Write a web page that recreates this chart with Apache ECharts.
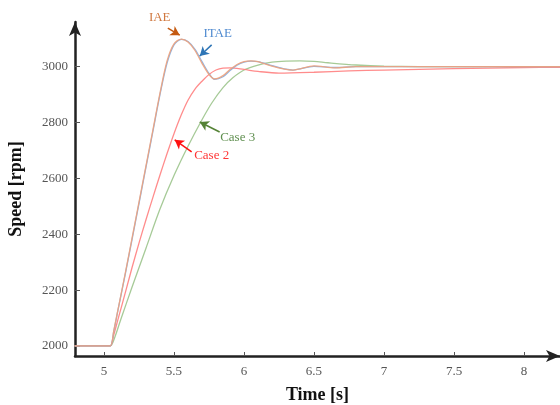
<!DOCTYPE html>
<html>
<head>
<meta charset="utf-8">
<script src="https://cdn.jsdelivr.net/npm/echarts@6/dist/echarts.min.js"></script>
<style>
html, body { margin: 0; padding: 0; background: #fff; }
#main { width: 560px; height: 405px; }
</style>
</head>
<body>
<div id="main"></div>
<script>
// tick labels
var timeTicks = [5, 5.5, 6, 6.5, 7, 7.5, 8];
var speedTicks = [2000, 2200, 2400, 2600, 2800, 3000];

// IAE / ITAE responses (shared time base)
var timeFast = [4.79, 5.0, 5.045, 5.07, 5.1, 5.15, 5.2, 5.25, 5.3, 5.35, 5.4, 5.45, 5.5, 5.553, 5.6, 5.65, 5.7, 5.75, 5.79, 5.85, 5.9, 5.95, 6.0, 6.05, 6.1, 6.2, 6.3, 6.35, 6.5, 6.65, 6.8, 7.0, 7.5, 8.26];
var speedIAE = [2000, 2000, 2000, 2055, 2130, 2255, 2385, 2515, 2645, 2775, 2905, 3020, 3082, 3099, 3088, 3058, 3012, 2972, 2956, 2968, 2990, 3008, 3018, 3021, 3018, 3002, 2990, 2988, 3003, 2996, 3000, 3000, 3000, 3000];
var speedITAE = [2000, 2000, 2000, 2053, 2128, 2252, 2380, 2510, 2640, 2770, 2900, 3012, 3078, 3098, 3090, 3062, 3018, 2976, 2955, 2964, 2986, 3005, 3016, 3020, 3018, 3004, 2991, 2988, 3001, 2997, 3000, 3000, 3000, 3000];

// Case 2
var timeCase2 = [4.79, 5.0, 5.045, 5.07, 5.1, 5.16, 5.2, 5.25, 5.3, 5.35, 5.4, 5.45, 5.5, 5.55, 5.6, 5.65, 5.7, 5.75, 5.8, 5.85, 5.9, 6.0, 6.1, 6.25, 6.5, 6.75, 7.0, 7.5, 8.0, 8.26];
var speedCase2 = [2000, 2000, 2000, 2040, 2095, 2205, 2280, 2368, 2452, 2533, 2612, 2688, 2760, 2825, 2880, 2920, 2948, 2972, 2988, 2995, 2996, 2990, 2983, 2977, 2980, 2985, 2988, 2993, 2997, 2998];

// Case 3
var timeCase3 = [4.79, 5.0, 5.045, 5.08, 5.12, 5.2, 5.3, 5.4, 5.5, 5.6, 5.7, 5.77, 5.85, 5.92, 6.0, 6.1, 6.2, 6.3, 6.4, 6.5, 6.6, 6.8, 7.0, 7.5, 8.26];
var speedCase3 = [2000, 2000, 2000, 2035, 2095, 2210, 2350, 2490, 2610, 2715, 2810, 2870, 2925, 2960, 2988, 3006, 3016, 3020, 3021, 3019, 3014, 3006, 3002, 3000, 3000];

var myChart = echarts.init(document.getElementById('main'));

var serif = 'Liberation Serif';

function pairs(t, v) {
    return t.map(function (x, i) { return [x, v[i]]; });
}

// text + arrow annotation attached to a series
function note(text, color, arrowColor, textAt, textOffset, from, to) {
    return {
        markPoint: {
            silent: true,
            symbol: 'circle',
            symbolSize: 0,
            data: [{ coord: textAt }],
            label: {
                show: true,
                position: 'inside',
                offset: textOffset,
                formatter: text,
                color: color,
                fontFamily: serif,
                fontSize: 13
            }
        },
        markLine: {
            silent: true,
            symbol: ['none', 'arrow'],
            symbolSize: [8, 9],
            label: { show: false },
            lineStyle: { color: arrowColor, width: 1.5, type: 'solid' },
            data: [[{ coord: from }, { coord: to }]]
        }
    };
}

function line(name, t, v, color, extra) {
    var s = {
        name: name,
        type: 'line',
        data: pairs(t, v),
        smooth: 0.3,
        showSymbol: false,
        clip: false,
        lineStyle: { color: color, width: 1.3, opacity: 0.9 },
        itemStyle: { color: color }
    };
    for (var k in extra) s[k] = extra[k];
    return s;
}

function plain(v) { return String(v); }

option = {
    animation: false,
    grid: { left: 75, right: 0, top: 22, bottom: 49, outerBoundsMode: 'none', containLabel: false },
    xAxis: {
        type: 'value',
        min: 4.793,
        max: 8.257,
        name: 'Time [s]',
        nameLocation: 'middle',
        nameGap: 30,
        nameTextStyle: { fontFamily: serif, fontSize: 18, fontWeight: 'bold', color: '#111' },
        axisLine: { onZero: false, symbol: ['none', 'arrow'], symbolSize: [9, 14], lineStyle: { color: '#222', width: 2.5 } },
        axisTick: { inside: true, length: 4, customValues: timeTicks, lineStyle: { color: '#555' } },
        axisLabel: { customValues: timeTicks, formatter: plain, margin: 9, fontFamily: serif, fontSize: 13, color: '#555' },
        splitLine: { show: false }
    },
    yAxis: {
        type: 'value',
        min: 1964,
        max: 3160,
        name: 'Speed [rpm]',
        nameLocation: 'middle',
        nameGap: 50,
        nameTextStyle: { fontFamily: serif, fontSize: 18, fontWeight: 'bold', color: '#111' },
        axisLine: { show: true, onZero: false, symbol: ['none', 'arrow'], symbolSize: [9, 14], lineStyle: { color: '#222', width: 2.5 } },
        axisTick: { show: true, inside: true, length: 5, customValues: speedTicks, lineStyle: { color: '#555' } },
        axisLabel: { customValues: speedTicks, formatter: plain, margin: 7, fontFamily: serif, fontSize: 13, color: '#555' },
        splitLine: { show: false }
    },
    series: [
        line('Case 3', timeCase3, speedCase3, '#9cc48c',
            note('Case 3', '#5f8f4f', '#548235', [5.955, 2745], [0, 0], [5.826, 2766], [5.684, 2802])),
        line('Case 2', timeCase2, speedCase2, '#ff7f7f',
            note('Case 2', '#ff3535', '#ff1010', [5.769, 2680], [0, 0], [5.626, 2695], [5.505, 2738])),
        line('ITAE', timeFast, speedITAE, '#7fabe0',
            note('ITAE', '#4f8ad0', '#2e75b6', [5.812, 3117], [0, 0], [5.769, 3078], [5.684, 3038])),
        line('IAE', timeFast, speedIAE, '#f0a27c',
            note('IAE', '#d0783f', '#c55a11', [5.398, 3150], [0, -7], [5.456, 3138], [5.541, 3113]))
    ]
};

myChart.setOption(option);
</script>
</body>
</html>
